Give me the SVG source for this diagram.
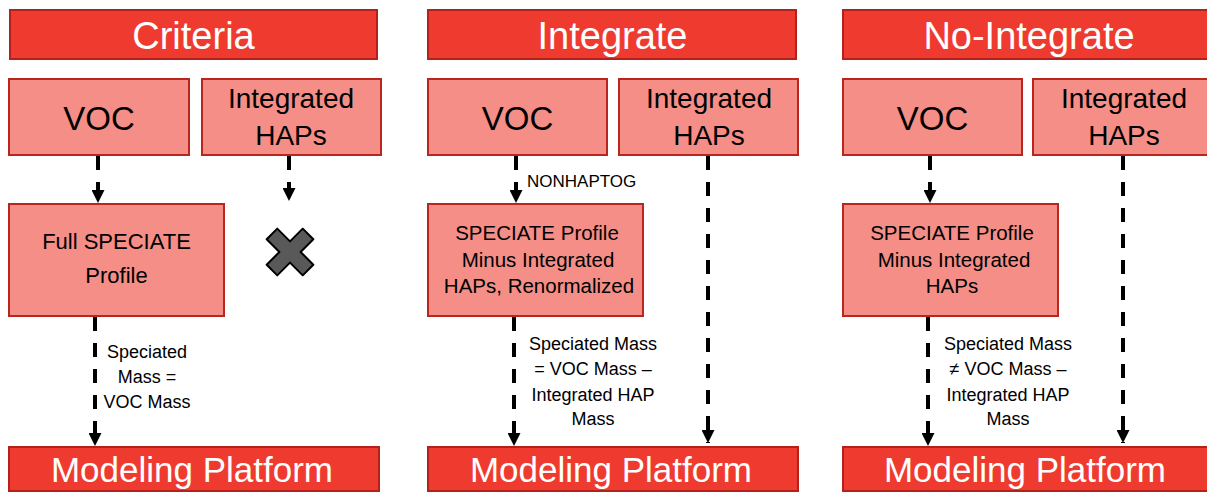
<svg xmlns="http://www.w3.org/2000/svg" width="1207" height="493" viewBox="0 0 1207 493">
  <style>
    .hdr { fill: #EF3B2F; stroke: #B3221A; stroke-width: 2; }
    .box { fill: #F48E86; stroke: #B8261E; stroke-width: 2; }
    .ht { font-family: "Liberation Sans", Arial, sans-serif; font-size: 38px; fill: #FFFFFF; text-anchor: middle; }
    .mp { font-family: "Liberation Sans", Arial, sans-serif; font-size: 35px; fill: #FFFFFF; text-anchor: middle; }
    .voc { font-family: "Liberation Sans", Arial, sans-serif; font-size: 33px; fill: #000; text-anchor: middle; }
    .hap { font-family: "Liberation Sans", Arial, sans-serif; font-size: 28px; fill: #000; text-anchor: middle; }
    .sp { font-family: "Liberation Sans", Arial, sans-serif; font-size: 20.5px; fill: #000; text-anchor: middle; }
    .lbl { font-family: "Liberation Sans", Arial, sans-serif; font-size: 18px; fill: #000; text-anchor: middle; }
    .conn { stroke: #000; stroke-width: 4; fill: none; stroke-dasharray: 14 12; marker-end: url(#ah); }
  </style>
  <defs>
    <marker id="ah" markerUnits="userSpaceOnUse" markerWidth="13" markerHeight="13" viewBox="0 0 12 12" refX="12" refY="6" orient="auto">
      <path d="M0,0 L12,6 L0,12 z" fill="#000"/>
    </marker>
  </defs>
  <rect width="1207" height="493" fill="#FFFFFF"/>

  <!-- Criteria column -->
  <g id="hdr-criteria"><rect class="hdr" x="10" y="10" width="367" height="49"/><text class="ht" x="193.5" y="49">Criteria</text></g>
  <g id="voc-1"><rect class="box" x="9" y="79" width="180" height="76"/><text class="voc" x="99" y="130">VOC</text></g>
  <g id="haps-1"><rect class="box" x="202" y="79" width="179" height="76"/><text class="hap" x="291" y="108">Integrated</text><text class="hap" x="291" y="145">HAPs</text></g>
  <g id="spec-1"><rect class="box" x="9" y="204" width="215" height="112"/><text class="sp" x="116.5" y="249" style="font-size:22px">Full SPECIATE</text><text class="sp" x="116.5" y="283" style="font-size:22px">Profile</text></g>
  <g id="cross-1"><path transform="translate(290,252) rotate(45)" d="M-7.5,-25.5 L7.5,-25.5 L7.5,-7.5 L25.5,-7.5 L25.5,7.5 L7.5,7.5 L7.5,25.5 L-7.5,25.5 L-7.5,7.5 L-25.5,7.5 L-25.5,-7.5 L-7.5,-7.5 Z" fill="#595959" stroke="#000" stroke-width="2" stroke-linejoin="round"/></g>
  <g id="mp-1"><rect class="hdr" x="9" y="447" width="370" height="44"/><text class="mp" x="192" y="482">Modeling Platform</text></g>

  <!-- Integrate column -->
  <g id="hdr-integrate"><rect class="hdr" x="428" y="10" width="368" height="49"/><text class="ht" x="612.5" y="49">Integrate</text></g>
  <g id="voc-2"><rect class="box" x="428" y="79" width="179" height="76"/><text class="voc" x="517.5" y="130">VOC</text></g>
  <g id="haps-2"><rect class="box" x="619" y="79" width="179" height="76"/><text class="hap" x="709" y="108">Integrated</text><text class="hap" x="709" y="145">HAPs</text></g>
  <g id="spec-2"><rect class="box" x="428" y="204" width="215" height="112"/><text class="sp" x="537" y="240">SPECIATE Profile</text><text class="sp" x="538" y="267">Minus Integrated</text><text class="sp" x="539" y="293">HAPs, Renormalized</text></g>
  <g id="mp-2"><rect class="hdr" x="428" y="447" width="370" height="44"/><text class="mp" x="611" y="482">Modeling Platform</text></g>

  <!-- No-Integrate column -->
  <g id="hdr-nointegrate"><rect class="hdr" x="843" y="10" width="368" height="49"/><text class="ht" x="1029" y="49">No-Integrate</text></g>
  <g id="voc-3"><rect class="box" x="843" y="79" width="179" height="76"/><text class="voc" x="932.5" y="130">VOC</text></g>
  <g id="haps-3"><rect class="box" x="1033" y="79" width="179" height="76"/><text class="hap" x="1124" y="108">Integrated</text><text class="hap" x="1124" y="145">HAPs</text></g>
  <g id="spec-3"><rect class="box" x="843" y="204" width="215" height="112"/><text class="sp" x="952" y="240">SPECIATE Profile</text><text class="sp" x="954" y="267">Minus Integrated</text><text class="sp" x="952" y="293">HAPs</text></g>
  <g id="mp-3"><rect class="hdr" x="843" y="447" width="370" height="44"/><text class="mp" x="1025" y="482">Modeling Platform</text></g>

  <!-- Connectors -->
  <g id="connectors">
    <line class="conn" x1="98" y1="156" x2="98" y2="203"/>
    <line class="conn" x1="289" y1="156" x2="289" y2="201"/>
    <line class="conn" x1="95" y1="317" x2="95" y2="446"/>
    <line class="conn" x1="516" y1="156" x2="516" y2="203"/>
    <line class="conn" x1="708" y1="156" x2="708" y2="443"/>
    <line class="conn" x1="514" y1="317" x2="514" y2="446"/>
    <line class="conn" x1="930" y1="156" x2="930" y2="203"/>
    <line class="conn" x1="1123" y1="156" x2="1123" y2="443"/>
    <line class="conn" x1="928" y1="317" x2="928" y2="446"/>
  </g>

  <!-- Connector labels -->
  <g id="labels">
    <text class="lbl" x="527" y="187" style="text-anchor:start;font-size:17px">NONHAPTOG</text>
    <text class="lbl" x="147" y="358">Speciated</text>
    <text class="lbl" x="147" y="383">Mass =</text>
    <text class="lbl" x="147" y="408">VOC Mass</text>
    <text class="lbl" x="593" y="350">Speciated Mass</text>
    <text class="lbl" x="593" y="375">= VOC Mass –</text>
    <text class="lbl" x="593" y="401">Integrated HAP</text>
    <text class="lbl" x="593" y="425">Mass</text>
    <text class="lbl" x="1008" y="350">Speciated Mass</text>
    <text class="lbl" x="1008" y="375">≠ VOC Mass –</text>
    <text class="lbl" x="1008" y="401">Integrated HAP</text>
    <text class="lbl" x="1008" y="425">Mass</text>
  </g>
</svg>
